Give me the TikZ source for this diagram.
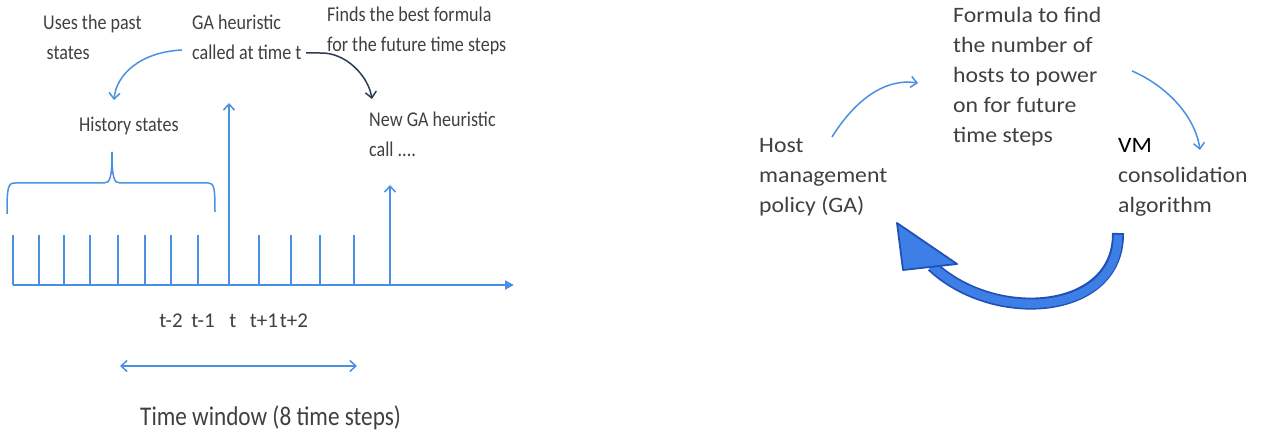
\documentclass[tikz,border=0pt]{standalone}
\usepackage{fontspec}
\setmainfont{Carlito}
\newfontfamily\lfont[FakeStretch=0.86]{Carlito}
\newfontfamily\rfont[FakeStretch=1.08]{Carlito}
\usetikzlibrary{arrows.meta}
\definecolor{lblue}{HTML}{4A90E2}
\definecolor{dkarrow}{HTML}{2B3A55}
\definecolor{txt}{HTML}{404040}
\definecolor{bigfill}{HTML}{3D7FE6}
\definecolor{bigedge}{HTML}{2150B8}
\tikzset{
  ltext/.style={font=\lfont\fontsize{21}{30}\selectfont, text=txt, inner sep=0pt, align=left, anchor=base west},
  rtext/.style={font=\rfont\fontsize{22}{30}\selectfont, text=txt, inner sep=0pt, align=left, anchor=base west},
  ticklbl/.style={font=\fontsize{21}{24}\selectfont, text=txt, inner sep=0pt, anchor=base},
  thin/.style={draw=lblue, line width=1.5pt},
  barb/.style={-{Straight Barb[length=6pt,width=11pt,line width=1.5pt]}},
  tick/.style={draw=lblue, line width=1.6pt},
}
\begin{document}
\begin{tikzpicture}[x=1pt,y=-1pt]
\useasboundingbox (0,0) rectangle (1287,443);
% texts left (base = baseline of last line)
\node[ltext] (uses) at (43,60) {Uses the past\\\,states};
\node[ltext] (ga) at (192,60) {GA heuristic\\called at time t};
\node[ltext] (finds) at (327,52) {Finds the best formula\\for the future time steps};
\node[ltext] (hist) at (79,132) {History states};
\node[ltext] (newga) at (369,157) {New GA heuristic\\call ....};
% axis
\coordinate (a0) at (13,285);
\coordinate (a1) at (514,285);
\draw[draw=lblue, line width=2pt, -{Triangle[length=9pt,width=9pt]}] (a0) -- (a1);
\foreach \x in {13,39,64,90,118,145,171,198,259,291,320,354}{
  \draw[tick] (\x,285) -- (\x,235);
}
\coordinate (tA) at (229,285);
\coordinate (tAt) at (229,103);
\coordinate (tB) at (390,285);
\coordinate (tBt) at (390,185);
\draw[thin, barb] (tA) -- (tAt);
\draw[thin, barb] (tB) -- (tBt);
% brace
\coordinate (peak) at (112,152);
\draw[thin] (7,214) .. controls (7,187) and (8,183) .. (15,183) -- (104,183) .. controls (110,183) and (112,178) .. (peak);
\draw[thin] (peak) .. controls (112,178) and (114,183) .. (120,183) -- (208,183) .. controls (214,183) and (215,187) .. (215,212);
% curved arrows
\coordinate (c1s) at (182,50);
\coordinate (c1e) at (114,100);
\draw[thin, barb] (c1s) .. controls (140,52) and (116,75) .. (c1e);
\coordinate (c2s) at (306,53);
\coordinate (c2e) at (372,99);
\draw[draw=dkarrow, line width=1.5pt, -{Straight Barb[length=6pt,width=11pt,line width=1.5pt]}] (c2s) -- (320,53) .. controls (345,52) and (368,75) .. (c2e);
% tick labels
\node[ticklbl] (l1) at (171,327) {t-2};
\node[ticklbl] (l2) at (203,327) {t-1};
\node[ticklbl] (l3) at (233,327) {t};
\node[ticklbl] (l4) at (264,327) {t+1};
\node[ticklbl] (l5) at (294,327) {t+2};
% time window
\coordinate (w0) at (120,366);
\coordinate (w1) at (357,366);
\draw[thin, {Straight Barb[length=6pt,width=11pt,line width=1.5pt]}-{Straight Barb[length=6pt,width=11pt,line width=1.5pt]}] (w0) -- (w1);
\node[font=\lfont\fontsize{27}{30}\selectfont, text=txt, inner sep=0pt, anchor=base west] (tw) at (140,425) {Time window (8 time steps)};
% right panel
\node[rtext] (formula) at (953,143) {Formula to find\\the number of\\hosts to power\\on for future\\time steps};
\node[rtext] (host) at (759,213) {Host\\management\\policy (GA)};
\node[rtext] (vm) at (1118,213) {\textcolor{black}{VM}\\consolidation\\algorithm};
\coordinate (r1s) at (832,137);
\coordinate (r1e) at (918,83);
\draw[thin, barb] (r1s) .. controls (855,100) and (885,78) .. (r1e);
\coordinate (r2s) at (1132,71);
\coordinate (r2e) at (1200,150);
\draw[thin, barb] (r2s) .. controls (1165,85) and (1195,115) .. (r2e);
% big arrow
\coordinate (bs) at (1118,233);
\coordinate (be) at (932,266);
\draw[draw=bigedge, line width=12pt] (bs) .. controls (1119,315) and (995,325) .. (be);
\draw[draw=bigfill, line width=8.5pt] ([yshift=-1.8pt]bs) .. controls (1119,315) and (995,325) .. (be);
\coordinate (tip) at (897,223);
\draw[draw=bigedge, fill=bigfill, line width=1.8pt, line join=round] (tip) -- (957,264) -- (903,270) -- cycle;
\end{tikzpicture}
\end{document}
